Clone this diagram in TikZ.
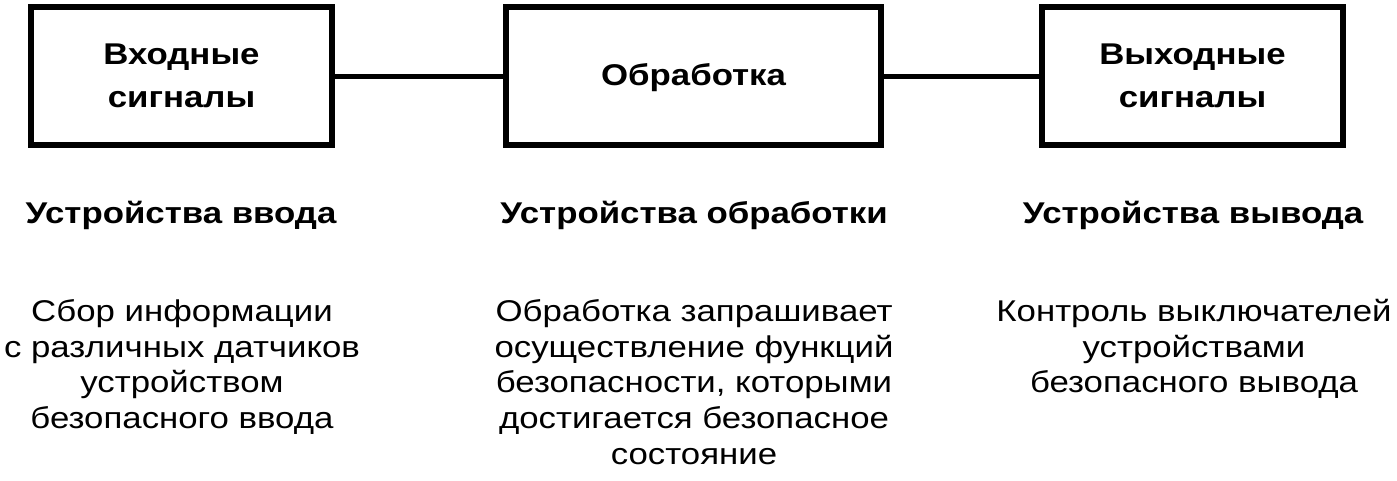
\documentclass[tikz,border=0pt]{standalone}
\usepackage{fontspec}
\setmainfont{Liberation Sans}[FakeStretch=1.16]
\begin{document}
\begin{tikzpicture}[x=1pt,y=-1pt,
  blk/.style={draw,line width=6pt,minimum height=138.5pt,inner sep=0pt},
  lbl/.style={font=\bfseries\fontsize{30}{43}\selectfont,align=center,inner sep=0pt,anchor=base},
  head/.style={font=\bfseries\fontsize{30}{36}\selectfont,inner sep=0pt,anchor=base},
  body/.style={font=\fontsize{30}{35.7}\selectfont,align=center,inner sep=0pt,anchor=base},
  conn/.style={line width=5pt}]
\useasboundingbox (0,0) rectangle (1397,481);
\node[blk,minimum width=301pt] (b1) at (181.5,76.25) {};
\node[blk,minimum width=375pt] (b2) at (693.5,76.25) {};
\node[blk,minimum width=301pt] (b3) at (1192.5,76.25) {};
% base anchor of a multi-line node = baseline of its last line
\node[lbl] (l1) at (181.5,108) {Входные\\сигналы};
\node[lbl] (l2) at (693.5,86) {Обработка};
\node[lbl] (l3) at (1192.5,108) {Выходные\\сигналы};
\draw[conn] (b1.east) -- (b2.west);
\draw[conn] (b2.east) -- (b3.west);
\node[head] (h1) at (181,223) {Устройства ввода};
\node[head] (h2) at (694,223) {Устройства обработки};
\node[head] (h3) at (1193,223) {Устройства вывода};
\node[body] (t1) at (182,428.6) {Сбор информации\\с различных датчиков\\устройством\\безопасного ввода};
\node[body] (t2) at (694,464.3) {Обработка запрашивает\\осуществление функций\\безопасности, которыми\\достигается безопасное\\состояние};
\node[body] (t3) at (1194,392.9) {Контроль выключателей\\устройствами\\безопасного вывода};
\end{tikzpicture}
\end{document}
